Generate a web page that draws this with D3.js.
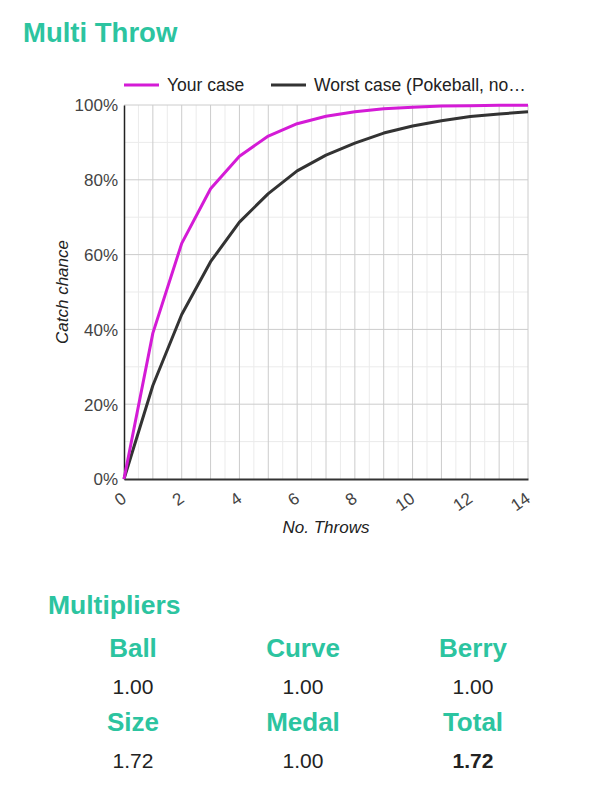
<!DOCTYPE html>
<html>
<head>
<meta charset="utf-8">
<script src="https://cdn.jsdelivr.net/npm/d3@7"></script>
<style>
  body { margin: 0; background: #fff; font-family: "Liberation Sans", Arial, sans-serif; }
  svg text { font-family: "Liberation Sans", Arial, sans-serif; }
</style>
</head>
<body>
<svg id="chart" width="602" height="789"></svg>
<script>
// throws and catch chances (%)
var throws = [0, 1, 2, 3, 4, 5, 6, 7, 8, 9, 10, 11, 12, 13, 14];
var yourCase = [0, 39, 63, 77.6, 86.3, 91.7, 95, 97, 98.2, 99, 99.4, 99.7, 99.8, 99.9, 99.95];
var worstCase = [0, 25, 44, 58.1, 68.7, 76.3, 82.4, 86.6, 89.8, 92.5, 94.4, 95.8, 96.9, 97.6, 98.2];
var seriesNames = ["Your case", "Worst case (Pokeball, no\u2026"];
var seriesColors = ["#d41bd6", "#333333"];
var xTicks = [0, 2, 4, 6, 8, 10, 12, 14];
var yTicks = [0, 20, 40, 60, 80, 100];

// multipliers table
var multLabels = ["Ball", "Curve", "Berry", "Size", "Medal", "Total"];
var multValues = ["1.00", "1.00", "1.00", "1.72", "1.00", "1.72"];

var teal = "#2cc4a0";
var svg = d3.select("#chart");

// title
svg.append("text")
    .attr("x", 23).attr("y", 42)
    .style("font-size", "27.5px").style("font-weight", "bold")
    .style("fill", teal)
    .text("Multi Throw");

var margin = {top: 105, left: 124},
    width = 404,
    height = 374;

var x = d3.scaleLinear().domain([0, 14]).range([0, width]);
var y = d3.scaleLinear().domain([0, 100]).range([height, 0]);

var g = svg.append("g")
    .attr("transform", "translate(" + margin.left + "," + margin.top + ")");

// minor grid
g.selectAll(".vminor")
    .data(d3.range(0.5, 14, 1))
  .enter().append("line")
    .attr("x1", function(d) { return x(d); }).attr("x2", function(d) { return x(d); })
    .attr("y1", 0).attr("y2", height)
    .style("stroke", "#ebebeb").style("stroke-width", 1);
g.selectAll(".hminor")
    .data(d3.range(10, 100, 20))
  .enter().append("line")
    .attr("y1", function(d) { return y(d); }).attr("y2", function(d) { return y(d); })
    .attr("x1", 0).attr("x2", width)
    .style("stroke", "#ebebeb").style("stroke-width", 1);

// major grid
g.selectAll(".vmajor")
    .data(d3.range(1, 15))
  .enter().append("line")
    .attr("x1", function(d) { return x(d); }).attr("x2", function(d) { return x(d); })
    .attr("y1", 0).attr("y2", height)
    .style("stroke", "#cccccc").style("stroke-width", 1);
g.selectAll(".hmajor")
    .data(d3.range(20, 101, 20))
  .enter().append("line")
    .attr("y1", function(d) { return y(d); }).attr("y2", function(d) { return y(d); })
    .attr("x1", 0).attr("x2", width)
    .style("stroke", "#cccccc").style("stroke-width", 1);

// y axis
var yAxis = g.append("g")
    .call(d3.axisLeft(y).tickValues(yTicks).tickSize(0).tickPadding(6)
      .tickFormat(function(d) { return d + "%"; }));
yAxis.select(".domain").style("stroke", "#222").style("stroke-width", 1.5);
yAxis.selectAll("text")
    .style("font-size", "17px").style("fill", "#444")
    .attr("dy", "0.35em");

// x axis
var xAxis = g.append("g")
    .attr("transform", "translate(0," + height + ")")
    .call(d3.axisBottom(x).tickValues(xTicks).tickSize(0).tickPadding(0));
xAxis.select(".domain").style("stroke", "#333").style("stroke-width", 2);
xAxis.selectAll("text")
    .style("font-size", "17px").style("fill", "#444")
    .style("text-anchor", "end")
    .attr("y", 0).attr("dy", 0)
    .attr("transform", "translate(3,22) rotate(-35)");

// lines
var line = d3.line()
    .x(function(d, i) { return x(throws[i]); })
    .y(function(d) { return y(d); });

[worstCase, yourCase].forEach(function(s, k) {
  g.append("path")
      .datum(s)
      .attr("d", line)
      .style("fill", "none")
      .style("stroke", seriesColors[1 - k])
      .style("stroke-width", 3)
      .style("stroke-linejoin", "round");
});

// axis titles
svg.append("text")
    .attr("transform", "translate(68,292) rotate(-90)")
    .style("text-anchor", "middle")
    .style("font-size", "17px").style("font-style", "italic").style("fill", "#222")
    .text("Catch chance");
svg.append("text")
    .attr("x", 326).attr("y", 533)
    .style("text-anchor", "middle")
    .style("font-size", "17px").style("font-style", "italic").style("fill", "#222")
    .text("No. Throws");

// legend
var legendX = [124, 271];
seriesNames.forEach(function(name, i) {
  svg.append("line")
      .attr("x1", legendX[i]).attr("x2", legendX[i] + 35)
      .attr("y1", 85).attr("y2", 85)
      .style("stroke", seriesColors[i]).style("stroke-width", 3);
  svg.append("text")
      .attr("x", legendX[i] + 43).attr("y", 91)
      .style("font-size", "17.5px").style("fill", "#222")
      .text(name);
});

// multipliers
svg.append("text")
    .attr("x", 48).attr("y", 614)
    .style("font-size", "26.5px").style("font-weight", "bold")
    .style("fill", teal)
    .text("Multipliers");

var colX = [133, 303, 473];
multLabels.forEach(function(lab, i) {
  var row = Math.floor(i / 3), col = i % 3;
  svg.append("text")
      .attr("x", colX[col]).attr("y", 657 + row * 74)
      .style("text-anchor", "middle")
      .style("font-size", "26px").style("font-weight", "bold")
      .style("fill", teal)
      .text(lab);
  svg.append("text")
      .attr("x", colX[col]).attr("y", 694 + row * 74)
      .style("text-anchor", "middle")
      .style("font-size", "21px")
      .style("font-weight", lab === "Total" ? "bold" : "normal")
      .style("fill", "#222")
      .text(multValues[i]);
});
</script>
</body>
</html>
